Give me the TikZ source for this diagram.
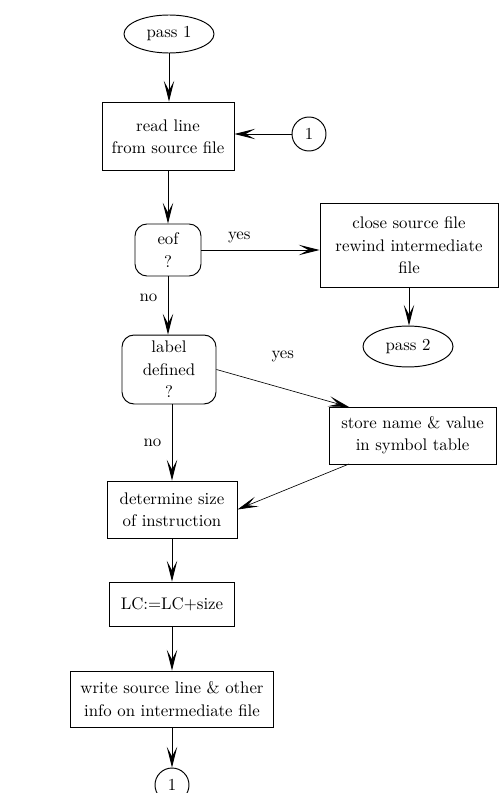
\documentclass[tikz,border=0pt]{standalone}
\usepackage{tikz}
\usetikzlibrary{shapes,arrows.meta,positioning}

\begin{document}
\begin{tikzpicture}[x=0.625pt,y=-0.625pt,font=\fontsize{10.5}{14}\selectfont,
  box/.style={draw,line width=0.6pt,align=center,inner sep=0pt},
  ask/.style={box,rounded corners=7.5pt},
  term/.style={draw,ellipse,line width=0.6pt,inner sep=0pt},
  conn/.style={draw,circle,line width=0.6pt,minimum size=21.25pt,inner sep=0pt},
  flow/.style={-{Stealth[length=13pt,width=6.5pt,inset=6pt]},line width=0.6pt}]
  \useasboundingbox (0,0) rectangle (503,793);
  % Nodes
  \node[term,minimum width=56.25pt,minimum height=23.75pt] (pass1) at (169,34) {pass 1};
  \node[box,minimum width=82.5pt,minimum height=43.1pt] (read) at (168,136.5) {read line\\from source file};
  \node[conn] (c1) at (309,134) {1};
  \node[ask,minimum width=41.25pt,minimum height=32.5pt] (eof) at (168,250) {eof\\?};
  \node[box,minimum width=111.25pt,minimum height=51.9pt] (close) at (409,245.5) {close source file\\rewind intermediate\\file};
  \node[term,minimum width=56.25pt,minimum height=25.6pt] (pass2) at (408,346.5) {pass 2};
  \node[ask,minimum width=58.75pt,minimum height=43.1pt] (defined) at (169,369.5) {label\\defined\\?};
  \node[box,minimum width=104.4pt,minimum height=35.6pt] (store) at (412.5,435.5) {store name \& value\\in symbol table};
  \node[box,minimum width=81.25pt,minimum height=35.6pt] (size) at (172,509.5) {determine size\\of instruction};
  \node[box,minimum width=78.1pt,minimum height=27.5pt] (lc) at (172,604) {LC:=LC+size};
  \node[box,minimum width=126.9pt,minimum height=35pt] (write) at (172,699) {write source line \& other\\info on intermediate file};
  \node[conn] (c2) at (172,785) {1};
  \coordinate (storein) at (349,407);
  \coordinate (storeout) at (349,464);
  % Connectors
  \draw[flow] (pass1) -- (pass1 |- read.north);
  \draw[flow] (c1.west) -- (c1.west -| read.east);
  \draw[flow] (read) -- (eof);
  \draw[flow] (eof.east) -- (eof.east -| close.west) node[pos=0.32,above=1pt]{yes};
  \draw[flow] (close) -- (close.south |- pass2.north);
  \draw[flow] (eof) -- (eof |- defined.north) node[midway,left=3pt,yshift=5pt]{no};
  \draw[flow,line width=0.4pt] (defined.east) -- (storein) node[midway,above=13pt]{yes};
  \draw[flow] (defined.south -| size.north) -- (size) node[midway,left=3pt]{no};
  \draw[flow,line width=0.4pt] (storeout) -- (size.east);
  \draw[flow] (size) -- (lc);
  \draw[flow] (lc) -- (write);
  \draw[flow] (write) -- (c2);
\end{tikzpicture}
\end{document}
